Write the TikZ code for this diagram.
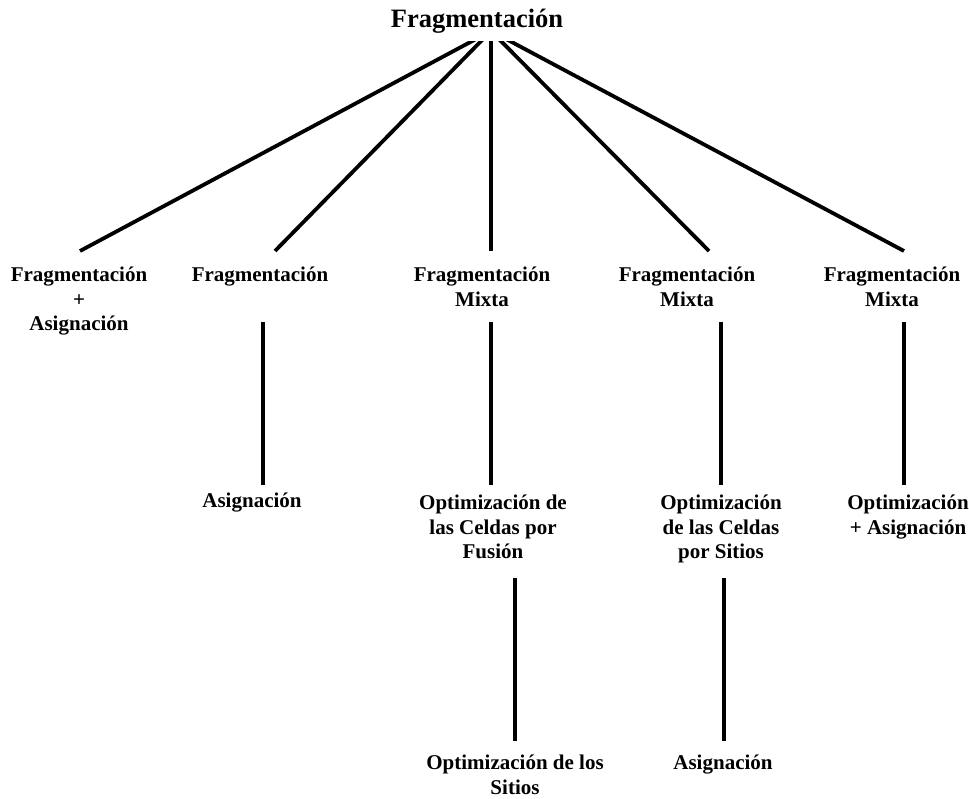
\documentclass[tikz,border=0pt]{standalone}
\usepackage{fontspec}
\setmainfont{Liberation Serif}
\usetikzlibrary{calc,positioning}

\begin{document}
\begin{tikzpicture}[x=1pt,y=-1pt,
		lbl/.style={font=\fontsize{21}{24.5}\selectfont\bfseries, align=center, inner sep=0pt, anchor=north},
		conn/.style={line width=3.8pt}]
			%%%%% START %%%%%
			\useasboundingbox (0,0) rectangle (969,799);
			
			\node[font=\fontsize{26.5}{30}\selectfont\bfseries, inner sep=0pt, anchor=base] (root) at (477, 28) {Fragmentación};
			\coordinate (hub) at (491, 31);
			
			% first row
			\node[lbl] (fa) at (79, 267) {Fragmentación\\+\\Asignación};
			\node[lbl] (fr) at (260, 267) {Fragmentación};
			\node[lbl] (fm1) at (482, 267) {Fragmentación\\Mixta};
			\node[lbl] (fm2) at (687, 267) {Fragmentación\\Mixta};
			\node[lbl] (fm3) at (892, 267) {Fragmentación\\Mixta};
			
			% second row
			\node[lbl] (asig) at (252, 493) {Asignación};
			\node[lbl] (ocf) at (493, 495) {Optimización de\\las Celdas por\\Fusión};
			\node[lbl] (ocs) at (721, 495) {Optimización\\de las Celdas\\por Sitios};
			\node[lbl] (oa) at (908, 495) {Optimización\\+ Asignación};
			
			% third row
			\node[lbl] (os) at (515, 755) {Optimización de los\\Sitios};
			\node[lbl] (asig2) at (723, 755) {Asignación};
			
			\begin{scope}
				\clip (0, 42) rectangle (969, 260);
				\draw[conn] (hub) -- ($(fa.north)+(1,-16)$);
				\draw[conn] (hub) -- ($(fr.north)+(15,-16)$);
				\draw[conn] (hub) -- ($(fm1.north)+(9,-16)$);
				\draw[conn] (hub) -- ($(fm2.north)+(22,-16)$);
				\draw[conn] (hub) -- ($(fm3.north)+(12,-16)$);
			\end{scope}
			
			\draw[conn] ($(asig.north |- fa.north)+(11,55)$) -- ($(asig.north)+(11,-8)$);
			\draw[conn] ($(ocf.north |- fa.north)+(-2,55)$) -- ($(ocf.north)+(-2,-10)$);
			\draw[conn] ($(ocs.north |- fa.north)+(0,55)$) -- ($(ocs.north)+(0,-10)$);
			\draw[conn] ($(oa.north |- fa.north)+(-4,55)$) -- ($(oa.north)+(-4,-10)$);
			
			\draw[conn] ($(os.north |- ocf.north)+(0,83)$) -- ($(os.north)+(0,-14)$);
			\draw[conn] ($(asig2.north |- ocf.north)+(1,83)$) -- ($(asig2.north)+(1,-14)$);
			%%%%% END %%%%%
\end{tikzpicture}
\end{document}
